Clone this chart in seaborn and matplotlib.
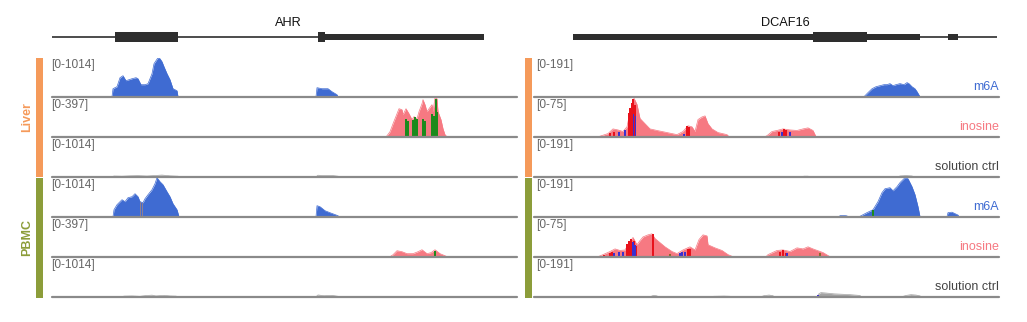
import matplotlib
matplotlib.use("Agg")
import matplotlib.pyplot as plt
from matplotlib.patches import Rectangle
import seaborn as sns

sns.set_theme(style="white")
plt.rcParams["font.family"] = ["Liberation Sans", "DejaVu Sans"]

# ---------------------------------------------------------------- colours
M6A_COLOR = "#3f6bd2"
INO_COLOR = "#f67982"
CTRL_COLOR = "#a3a3a3"
LIVER_COLOR = "#f59a5a"
PBMC_COLOR = "#8c9d3a"
BASE_COLOR = "#8a8a8a"
GENE_COLOR = "#2e2e2e"
MM_COLORS = {"G": "#1c8a1c", "R": "#e8121c", "B": "#3b2fd0", "N": "#8f7f8f", "O": "#8a6a2a"}
MM_WIDTHS = {"G": 2.0, "R": 1.3, "B": 1.3, "N": 1.0, "O": 1.2}

# ---------------------------------------------------------------- gene models (window coordinates)
ahr_line = [0, 432]
ahr_cds_start = [63, 266]
ahr_cds_len = [63, 7]
ahr_utr_start = [273]
ahr_utr_len = [159]

dcaf16_line = [39, 463]
dcaf16_cds_start = [279]
dcaf16_cds_len = [54]
dcaf16_utr_start = [39, 333, 414]
dcaf16_utr_len = [240, 53, 10]

# ---------------------------------------------------------------- data ranges
ahr_scales = [1014, 397, 1014]
dcaf16_scales = [191, 75, 191]
track_names = ["m6A", "inosine", "solution ctrl"]
samples = ["Liver", "PBMC"]

# ---------------------------------------------------------------- AHR coverage
ahr_liver_m6a_pos = [60, 61, 65, 68, 71, 74, 77, 80, 84, 86, 89, 93, 96, 100, 102, 106, 108, 110, 112, 115,
                     118, 121, 125, 126, 264, 265, 270, 276, 280, 285, 286]
ahr_liver_m6a_val = [0, 208, 260, 494, 546, 416, 442, 468, 494, 468, 312, 312, 338, 598, 858, 1014, 988, 910, 780, 598,
                     442, 208, 156, 0, 0, 234, 208, 208, 130, 52, 0]

ahr_liver_ino_pos = [334, 335, 338, 341, 345, 347, 350, 351, 354, 357, 360, 362, 365, 367, 370, 371, 373, 375, 377, 380,
                     381, 383, 385, 386, 389, 391, 393, 395]
ahr_liver_ino_val = [0, 10, 51, 132, 234, 285, 275, 224, 285, 234, 173, 204, 183, 255, 336, 377, 326, 255, 285, 326,
                     255, 397, 387, 255, 173, 81, 20, 0]
ahr_liver_ino_mm_pos = [354, 356, 361, 363, 365, 371, 373, 380, 382, 383.5, 385]
ahr_liver_ino_mm_val = [183, 163, 173, 204, 183, 183, 163, 234, 214, 387, 250]
ahr_liver_ino_mm_col = ["G", "G", "G", "G", "G", "G", "G", "G", "G", "G", "G"]

ahr_liver_ctrl_pos = [60, 62, 70, 78, 86, 95, 104, 110, 118, 126, 128, 264, 266, 272, 280, 286, 288, 345, 347, 349]
ahr_liver_ctrl_val = [0, 20, 15, 25, 30, 20, 35, 45, 25, 15, 0, 0, 40, 30, 35, 15, 0, 0, 10, 0]

ahr_pbmc_m6a_pos = [61, 62, 65, 70, 73, 76, 80, 83, 86, 88, 91, 93, 96, 100, 103, 105, 108, 111, 115, 118,
                    121, 125, 127, 264, 265, 268, 273, 278, 286, 287]
ahr_pbmc_m6a_val = [0, 182, 312, 442, 390, 494, 520, 598, 520, 390, 364, 468, 572, 702, 858, 1014, 910, 832, 650, 520,
                    338, 182, 0, 0, 286, 260, 156, 104, 26, 0]
ahr_pbmc_m6a_mm_pos = [88, 90]
ahr_pbmc_m6a_mm_val = [390, 360]
ahr_pbmc_m6a_mm_col = ["N", "N"]

ahr_pbmc_ino_pos = [338, 341, 345, 350, 355, 361, 366, 370, 375, 379, 383, 388, 393, 395]
ahr_pbmc_ino_val = [0, 20, 61, 51, 31, 31, 51, 71, 31, 41, 71, 31, 10, 0]
ahr_pbmc_ino_mm_pos = [383]
ahr_pbmc_ino_mm_val = [61]
ahr_pbmc_ino_mm_col = ["G"]

ahr_pbmc_ctrl_pos = [70, 72, 80, 88, 94, 100, 104, 112, 118, 124, 126, 264, 266, 272, 280, 286, 288]
ahr_pbmc_ctrl_val = [0, 15, 20, 10, 30, 40, 20, 35, 20, 15, 0, 0, 45, 25, 35, 10, 0]

# ---------------------------------------------------------------- DCAF16 coverage
dcaf16_liver_m6a_pos = [330, 331, 334, 338, 342, 346, 350, 353, 356, 359, 362, 366, 370, 373, 375, 378, 381, 383, 386]
dcaf16_liver_m6a_val = [0, 5, 20, 39, 49, 54, 59, 59, 64, 54, 59, 64, 59, 69, 64, 49, 39, 25, 0]

dcaf16_liver_ino_pos = [64, 66, 74, 79, 84, 89, 93, 96, 99, 100, 103, 106, 111, 116, 123, 133, 143, 149, 154, 158,
                        161, 164, 168, 171, 174, 178, 184, 193, 195,
                        231, 233, 238, 243, 249, 256, 263, 269, 274, 279, 282]
dcaf16_liver_ino_val = [0, 1, 6, 15, 13, 10, 19, 48, 67, 74, 62, 35, 25, 15, 12, 8, 4, 10, 21, 19,
                        10, 33, 38, 40, 25, 15, 8, 4, 0,
                        0, 2, 10, 12, 15, 13, 12, 15, 17, 12, 0]
dcaf16_liver_ino_mm_pos = [76, 80, 95, 96, 98, 99, 101, 153, 155, 245, 250, 252,
                           85, 91, 99.5, 101.5, 150, 248, 256]
dcaf16_liver_ino_mm_val = [8, 10, 45, 55, 65, 72, 60, 20, 18, 10, 14, 12,
                           10, 12, 44, 40, 6, 9, 9]
dcaf16_liver_ino_mm_col = ["R"] * 12 + ["B"] * 7

dcaf16_liver_ctrl_pos = [268, 270, 274, 276, 364, 366, 372, 378, 380]
dcaf16_liver_ctrl_val = [0, 3, 3, 0, 0, 4, 6, 4, 0]

dcaf16_pbmc_m6a_pos = [305, 306, 310, 313, 314, 324, 326, 333, 339, 344, 348, 351, 356, 359, 363, 366, 371, 374, 378,
                       381, 384, 386, 413, 414, 418, 421, 424, 425]
dcaf16_pbmc_m6a_val = [0, 5, 6, 4, 0, 0, 2, 20, 34, 74, 118, 137, 142, 127, 147, 167, 191, 186, 147,
                       108, 49, 0, 0, 20, 22, 15, 8, 0]
dcaf16_pbmc_m6a_mm_pos = [339]
dcaf16_pbmc_m6a_mm_val = [34]
dcaf16_pbmc_m6a_mm_col = ["G"]

dcaf16_pbmc_ino_pos = [64, 69, 76, 81, 86, 91, 96, 99, 103, 106, 109, 114, 118, 121, 126, 131, 138, 143, 149, 156,
                       161, 165, 169, 173, 174, 181, 188, 194, 199,
                       232, 234, 243, 249, 256, 263, 269, 274, 279, 289, 296]
dcaf16_pbmc_ino_val = [0, 4, 10, 15, 12, 13, 29, 37, 23, 31, 38, 42, 44, 35, 27, 19, 10, 6, 13, 19,
                       13, 33, 42, 40, 23, 17, 12, 4, 0,
                       0, 4, 12, 13, 10, 17, 15, 19, 15, 8, 0]
dcaf16_pbmc_ino_mm_pos = [70, 76, 78, 93, 95, 97, 100, 102, 119, 154, 156, 246, 249, 252,
                          80, 85, 89, 99, 101, 146, 148, 151, 253,
                          136, 286]
dcaf16_pbmc_ino_mm_val = [4, 8, 9, 25, 30, 35, 30, 20, 44, 15, 14, 10, 12, 8,
                          8, 10, 10, 29, 22, 8, 10, 9, 7,
                          6, 8]
dcaf16_pbmc_ino_mm_col = ["R"] * 14 + ["B"] * 9 + ["O", "O"]

dcaf16_pbmc_ctrl_pos = [117, 118, 120, 123, 124, 175, 180, 190, 196, 197, 227, 230, 235, 239, 240,
                        283, 285, 287, 292, 300, 308, 316, 326, 327, 368, 372, 377, 382, 386, 387]
dcaf16_pbmc_ctrl_val = [0, 4, 6, 4, 0, 0, 2, 3, 2, 0, 0, 5, 8, 5, 0,
                        0, 15, 20, 18, 14, 12, 10, 6, 0, 0, 6, 10, 8, 4, 0]
dcaf16_pbmc_ctrl_mm_pos = [284]
dcaf16_pbmc_ctrl_mm_val = [8]
dcaf16_pbmc_ctrl_mm_col = ["B"]

# ---------------------------------------------------------------- assemble panels
panels = [
    {
        "gene": "AHR", "x0": 52, "label_cx": 288, "scales": ahr_scales,
        "line": ahr_line, "cds": (ahr_cds_start, ahr_cds_len), "utr": (ahr_utr_start, ahr_utr_len),
        "tracks": [
            (ahr_liver_m6a_pos, ahr_liver_m6a_val, None),
            (ahr_liver_ino_pos, ahr_liver_ino_val, (ahr_liver_ino_mm_pos, ahr_liver_ino_mm_val, ahr_liver_ino_mm_col)),
            (ahr_liver_ctrl_pos, ahr_liver_ctrl_val, None),
            (ahr_pbmc_m6a_pos, ahr_pbmc_m6a_val, (ahr_pbmc_m6a_mm_pos, ahr_pbmc_m6a_mm_val, ahr_pbmc_m6a_mm_col)),
            (ahr_pbmc_ino_pos, ahr_pbmc_ino_val, (ahr_pbmc_ino_mm_pos, ahr_pbmc_ino_mm_val, ahr_pbmc_ino_mm_col)),
            (ahr_pbmc_ctrl_pos, ahr_pbmc_ctrl_val, None),
        ],
        "side_labels": False, "bar_x": 36, "range_x": 51,
    },
    {
        "gene": "DCAF16", "x0": 534, "label_cx": 785, "scales": dcaf16_scales,
        "line": dcaf16_line, "cds": (dcaf16_cds_start, dcaf16_cds_len), "utr": (dcaf16_utr_start, dcaf16_utr_len),
        "tracks": [
            (dcaf16_liver_m6a_pos, dcaf16_liver_m6a_val, None),
            (dcaf16_liver_ino_pos, dcaf16_liver_ino_val,
             (dcaf16_liver_ino_mm_pos, dcaf16_liver_ino_mm_val, dcaf16_liver_ino_mm_col)),
            (dcaf16_liver_ctrl_pos, dcaf16_liver_ctrl_val, None),
            (dcaf16_pbmc_m6a_pos, dcaf16_pbmc_m6a_val,
             (dcaf16_pbmc_m6a_mm_pos, dcaf16_pbmc_m6a_mm_val, dcaf16_pbmc_m6a_mm_col)),
            (dcaf16_pbmc_ino_pos, dcaf16_pbmc_ino_val,
             (dcaf16_pbmc_ino_mm_pos, dcaf16_pbmc_ino_mm_val, dcaf16_pbmc_ino_mm_col)),
            (dcaf16_pbmc_ctrl_pos, dcaf16_pbmc_ctrl_val,
             (dcaf16_pbmc_ctrl_mm_pos, dcaf16_pbmc_ctrl_mm_val, dcaf16_pbmc_ctrl_mm_col)),
        ],
        "side_labels": True, "bar_x": 525, "range_x": 536,
    },
]

# ---------------------------------------------------------------- figure layout (pixel grid)
W, H = 1027, 322
PANEL_W = 465
TRACK_H = 39
BASELINES = [96.7, 136.7, 176.8, 216.7, 256.7, 296.7]
TRACK_COLORS = [M6A_COLOR, INO_COLOR, CTRL_COLOR]
LABEL_COLORS = [M6A_COLOR, INO_COLOR, "#444444"]

fig = plt.figure(figsize=(W / 100, H / 100), dpi=100)


def fx(px):
    return px / W


def fy(py):
    return 1 - py / H


for panel in panels:
    x0 = panel["x0"]

    # gene model
    gax = fig.add_axes([fx(x0), fy(47), PANEL_W / W, 20 / H])
    gax.set_xlim(0, PANEL_W)
    gax.set_ylim(-10, 10)
    gax.set_axis_off()
    gax.plot(panel["line"], [0, 0], color=GENE_COLOR, lw=1.2, solid_capstyle="butt")
    us, ul = panel["utr"]
    gax.broken_barh(list(zip(us, ul)), (-3.1, 6.2), color=GENE_COLOR, lw=0)
    cs, cl = panel["cds"]
    gax.broken_barh(list(zip(cs, cl)), (-5.3, 10.6), color=GENE_COLOR, lw=0)
    fig.text(fx(panel["label_cx"]), fy(22.5), panel["gene"], ha="center", va="center",
             fontsize=9.2, color="#111111")

    # coverage tracks
    for i, (pos, val, mm) in enumerate(panel["tracks"]):
        kind = i % 3
        scale = panel["scales"][kind]
        base = BASELINES[i]
        ax = fig.add_axes([fx(x0), fy(base), PANEL_W / W, TRACK_H / H])
        ax.set_xlim(0, PANEL_W)
        ax.set_ylim(0, scale)
        ax.set_axis_off()
        col = TRACK_COLORS[kind]
        ax.fill_between(pos, val, 0, color=col, lw=0)
        sns.lineplot(x=pos, y=val, ax=ax, color=col, lw=0.5, sort=False)
        if mm is not None:
            mp, mv, mc = mm
            ax.bar(mp, mv, width=[MM_WIDTHS[c] for c in mc],
                   color=[MM_COLORS[c] for c in mc], lw=0, zorder=3)
        ax.axhline(0, color=BASE_COLOR, lw=1.6, clip_on=False, zorder=5)
        fig.text(fx(panel["range_x"]), fy(base - 32), f"[0-{scale}]", ha="left", va="center",
                 fontsize=8.6, color="#666666")
        if panel["side_labels"]:
            fig.text(fx(x0 + PANEL_W), fy(base - 7), track_names[kind], ha="right", va="baseline",
                     fontsize=9, color=LABEL_COLORS[kind])

    # sample colour bars
    bx = panel["bar_x"]
    fig.add_artist(Rectangle((fx(bx), fy(177.3)), 6.5 / W, (177.3 - 58.3) / H,
                             transform=fig.transFigure, color=LIVER_COLOR, lw=0))
    fig.add_artist(Rectangle((fx(bx), fy(297.5)), 6.5 / W, (297.5 - 178.0) / H,
                             transform=fig.transFigure, color=PBMC_COLOR, lw=0))

# sample names
fig.text(fx(27), fy(117), samples[0], rotation=90, ha="center", va="center",
         fontsize=9, fontweight="bold", color=LIVER_COLOR)
fig.text(fx(27), fy(238), samples[1], rotation=90, ha="center", va="center",
         fontsize=9, fontweight="bold", color=PBMC_COLOR)

fig.savefig("out.png", dpi=100)
